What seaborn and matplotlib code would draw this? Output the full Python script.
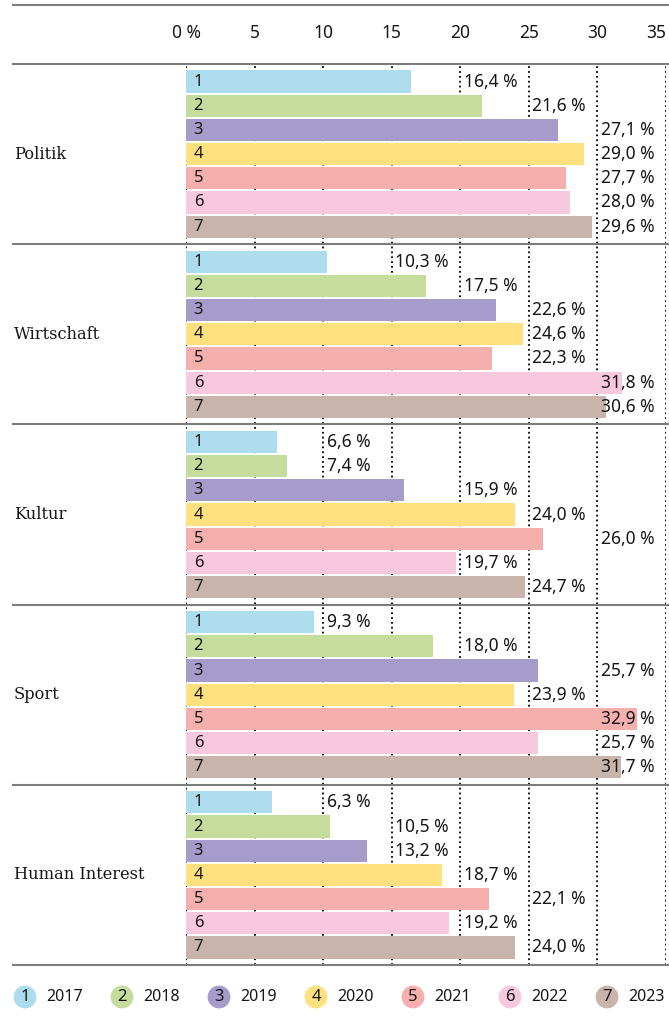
import math

import numpy as np
import pandas as pd
import matplotlib
matplotlib.use("Agg")
import matplotlib.pyplot as plt
import matplotlib.transforms as mtransforms
from matplotlib.lines import Line2D
import seaborn as sns

# --- data -------------------------------------------------------------------
categories = ["Politik", "Wirtschaft", "Kultur", "Sport", "Human Interest"]
years = ["2017", "2018", "2019", "2020", "2021", "2022", "2023"]

politik = [16.4, 21.6, 27.1, 29.0, 27.7, 28.0, 29.6]
wirtschaft = [10.3, 17.5, 22.6, 24.6, 22.3, 31.8, 30.6]
kultur = [6.6, 7.4, 15.9, 24.0, 26.0, 19.7, 24.7]
sport = [9.3, 18.0, 25.7, 23.9, 32.9, 25.7, 31.7]
human_interest = [6.3, 10.5, 13.2, 18.7, 22.1, 19.2, 24.0]

x_ticks = [0, 5, 10, 15, 20, 25, 30, 35]
x_tick_labels = ["0 %", "5", "10", "15", "20", "25", "30", "35"]

year_colors = ["#acdcee", "#c6dc9c", "#a59ccc", "#fee07f",
               "#f5b0ae", "#f8c8de", "#c8b4aa"]

series = [politik, wirtschaft, kultur, sport, human_interest]
df = pd.DataFrame(
    [{"Ressort": cat, "Jahr": yr, "Anteil": v}
     for cat, vals in zip(categories, series)
     for yr, v in zip(years, vals)]
)

# --- figure geometry ----------------------------------------------------------
W, H, DPI = 669, 1022, 100
SANS = ["Noto Sans", "DejaVu Sans"]
SERIF = ["DejaVu Serif"]
TXT = "#161616"
RULE = "#7d7d7d"
NUM_SIZE = 12.5


def fx(px):
    return px / W


def fy(px):
    return 1 - px / H


fig = plt.figure(figsize=(W / DPI, H / DPI), dpi=DPI)
fig.patch.set_facecolor("white")

ax_left, ax_right, ax_top, ax_bottom = 186, 666, 64, 965
ax = fig.add_axes([fx(ax_left), fy(ax_bottom),
                   fx(ax_right) - fx(ax_left), fy(ax_top) - fy(ax_bottom)])

sns.barplot(
    data=df, y="Ressort", x="Anteil", hue="Jahr",
    order=categories, hue_order=years, palette=year_colors,
    orient="h", width=0.94, gap=0.09, saturation=1,
    errorbar=None, legend=False, ax=ax, zorder=2, linewidth=0,
)

ax.set_xlim(0, 35)
ax.set_ylim(len(categories) - 0.5, -0.5)
ax.set_xlabel("")
ax.set_ylabel("")
ax.set_yticks([])
ax.set_xticks(x_ticks)
ax.tick_params(axis="x", length=0, labelbottom=False, labeltop=False)
for s in ax.spines.values():
    s.set_visible(False)

# dotted vertical gridlines behind the bars
ax.set_axisbelow(True)
ax.grid(axis="x", color="black", linestyle=(0, (1, 1.7)), linewidth=1.3, zorder=0)
ax.grid(axis="y", visible=False)

# header tick labels above the chart
head_y = 1 + (ax_top - 33) / (ax_bottom - ax_top)
head_trans = mtransforms.blended_transform_factory(ax.transData, ax.transAxes)
for i, (t, lab) in enumerate(zip(x_ticks, x_tick_labels)):
    ha = "right" if i == len(x_ticks) - 1 else "center"
    ax.text(t, head_y, lab, transform=head_trans, ha=ha, va="center",
            fontsize=NUM_SIZE, family=SANS, color=TXT, clip_on=False)

# value labels snap to the next gridline to the right of each bar
for hue_idx, container in enumerate(ax.containers):
    for patch in container:
        v = patch.get_width()
        yc = patch.get_y() + patch.get_height() / 2
        label_x = min(math.ceil(round(v / 5, 6)) * 5, 30)
        ax.annotate(f"{v:.1f} %".replace(".", ","), xy=(label_x, yc),
                    xytext=(2.5, 0), textcoords="offset points",
                    ha="left", va="center", fontsize=NUM_SIZE, family=SANS,
                    color=TXT, zorder=4, annotation_clip=False)
        ax.annotate(str(hue_idx + 1), xy=(0, yc), xytext=(5.5, 0),
                    textcoords="offset points", ha="left", va="center",
                    fontsize=12, family=SANS, color=TXT, zorder=4)

# horizontal rules between groups, running across the whole width
row_trans = mtransforms.blended_transform_factory(fig.transFigure, ax.transData)
for b in np.arange(-0.5, len(categories)):
    ax.add_line(Line2D([fx(13), 1], [b, b], transform=row_trans, color=RULE,
                       linewidth=1.5, clip_on=False, zorder=5))
fig.add_artist(Line2D([fx(13), 1], [fy(5), fy(5)], transform=fig.transFigure,
                      color=RULE, linewidth=1.5))

# category names on the left
for i, cat in enumerate(categories):
    ax.text(fx(14), i, cat, transform=row_trans, ha="left", va="center",
            fontsize=11.7, family=SERIF, color=TXT, clip_on=False)

# legend row along the bottom
leg = fig.add_axes([0, fy(1020), 1, fy(974) - fy(1020)])
leg.set_xlim(0, W)
leg.set_ylim(-1, 1)
leg.axis("off")
step = 97.0
centers = [25 + step * i for i in range(len(years))]
leg.scatter(centers, [0] * len(years), s=270, c=year_colors, linewidths=0)
for i, (cx, yr) in enumerate(zip(centers, years)):
    leg.text(cx, 0, str(i + 1), ha="center", va="center", fontsize=12,
             family=SANS, color=TXT)
    leg.text(cx + 21, 0, yr, ha="left", va="center", fontsize=11.5,
             family=SANS, color=TXT)

fig.savefig("out.png", dpi=DPI, facecolor="white")
